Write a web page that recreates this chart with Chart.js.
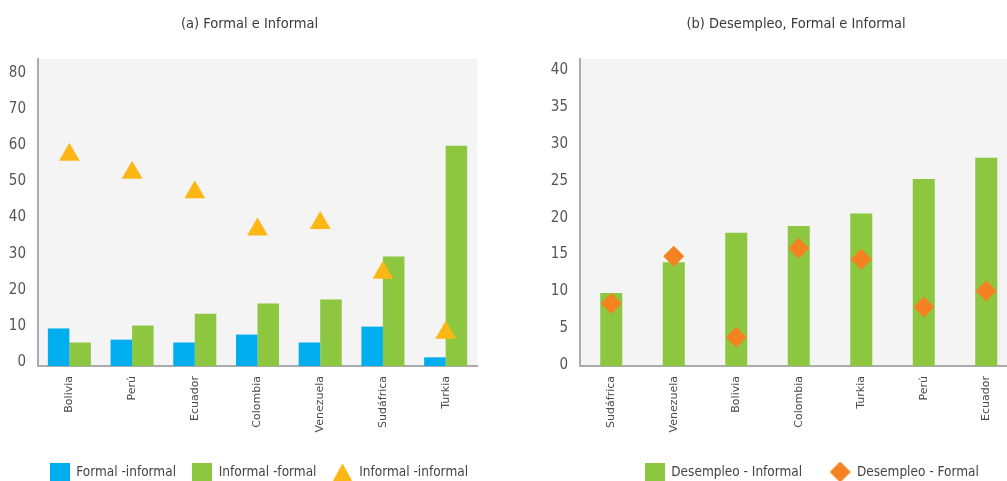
<!DOCTYPE html>
<html>
<head>
<meta charset="utf-8">
<script src="https://cdn.jsdelivr.net/npm/chart.js@4.4.1/dist/chart.umd.min.js"></script>
<style>
  html, body { margin: 0; padding: 0; background: #fff; overflow: hidden; width: 1007px; height: 481px; }
  canvas { position: absolute; top: 0; }
  #chartA { left: 0; }
  #chartB { left: 530px; }
</style>
</head>
<body>
<canvas id="chartA" width="489" height="481"></canvas>
<canvas id="chartB" width="499" height="481"></canvas>
<script>
// (a) Formal e Informal
const paisesA = ['Bolivia', 'Perú', 'Ecuador', 'Colombia', 'Venezuela', 'Sudáfrica', 'Turkia'];
const formalInformal = [10.4, 7.3, 6.5, 8.7, 6.5, 10.9, 2.4];
const informalFormal = [6.5, 11.2, 14.5, 17.3, 18.4, 30.3, 61.0];
const informalInformal = [58.5, 53.5, 48.1, 37.8, 39.6, 25.8, 9.2];
const ticksA = [0, 10, 20, 30, 40, 50, 60, 70, 80];

// (b) Desempleo, Formal e Informal
const paisesB = ['Sudáfrica', 'Venezuela', 'Bolivia', 'Colombia', 'Turkia', 'Perú', 'Ecuador'];
const desempleoInformal = [9.9, 14.1, 18.1, 19.0, 20.7, 25.4, 28.3];
const desempleoFormal = [8.5, 14.9, 3.9, 16.0, 14.5, 8.0, 10.2];
const ticksB = [0, 5, 10, 15, 20, 25, 30, 35, 40];

const AZUL = '#00adef';
const VERDE = '#8dc63f';
const AMARILLO = '#fdb714';
const NARANJA = '#f58220';
const EJE = '#a9abae';

Chart.defaults.font.family = "'Liberation Sans Narrow', 'DejaVu Sans Condensed', sans-serif";
Chart.defaults.color = '#444';

// small canvases used as legend symbols
function icono(w, h, color, forma) {
    const c = document.createElement('canvas');
    c.width = w;
    c.height = h;
    const ctx = c.getContext('2d');
    ctx.fillStyle = color;
    ctx.beginPath();
    if (forma === 'tri') {
        ctx.moveTo(w / 2, 0);
        ctx.lineTo(w, h);
        ctx.lineTo(0, h);
    } else if (forma === 'rombo') {
        ctx.moveTo(w / 2, 0);
        ctx.lineTo(w, h / 2);
        ctx.lineTo(w / 2, h);
        ctx.lineTo(0, h / 2);
    } else {
        ctx.rect(0, 0, w, h);
    }
    ctx.closePath();
    ctx.fill();
    return c;
}

// light grey plot background
const plotBg = {
    id: 'plotBg',
    beforeDraw(chart) {
        const a = chart.chartArea;
        const ctx = chart.ctx;
        ctx.save();
        ctx.fillStyle = '#f3f4f3';
        ctx.fillRect(a.left, a.top, a.right - a.left, a.bottom - a.top);
        ctx.restore();
    }
};

// legend kept on one row, fixed height
const legendHeight = {
    id: 'legendHeight',
    beforeInit(chart) {
        const fit = chart.legend.fit;
        chart.legend.fit = function () {
            this.maxWidth = 1000;
            fit.call(this);
            this.height = 37.75;
        };
    }
};

// move title / legend to where the original has them
const ajusteCajas = {
    id: 'ajusteCajas',
    afterLayout(chart, args, opts) {
        const t = chart.titleBlock;
        const half = (t.right - t.left) / 2;
        t.left = opts.titleCenter - half;
        t.right = opts.titleCenter + half;

        const lg = chart.legend;
        const p = lg.options.labels.padding;
        lg.left = opts.legendStart - p;
        lg.right = opts.legendStart + lg.lineWidths[0] + 1;
        lg.width = lg.right - lg.left;
        lg.top = opts.legendMid - p - lg.options.labels.font.size / 2;
        lg.bottom = chart.height;
        lg.height = lg.bottom - lg.top;
    }
};

function buildOptions(cfg) {
    return {
        responsive: false,
        animation: false,
        events: [],
        layout: { padding: { left: 0, right: cfg.padRight, top: 0, bottom: 0 } },
        plugins: {
            tooltip: { enabled: false },
            title: {
                display: true,
                text: cfg.title,
                fullSize: false,
                color: '#3a3a3a',
                font: { size: 14.5, weight: 'normal' },
                padding: { top: 16, bottom: 25.6 }
            },
            legend: {
                position: 'bottom',
                fullSize: false,
                labels: {
                    usePointStyle: true,
                    pointStyleWidth: 20,
                    boxHeight: 13.5,
                    padding: cfg.legendPad,
                    color: '#444',
                    font: { size: 13.5 },
                    sort: (a, b) => a.datasetIndex - b.datasetIndex,
                    generateLabels(chart) {
                        const items = Chart.defaults.plugins.legend.labels.generateLabels(chart);
                        items.forEach(it => { it.pointStyle = cfg.iconos[it.datasetIndex]; });
                        return items;
                    }
                }
            },
            ajusteCajas: {
                titleCenter: cfg.titleCenter,
                legendStart: cfg.legendStart,
                legendMid: 472
            }
        },
        scales: {
            x: {
                grid: { display: false, drawTicks: false },
                border: { display: true, color: EJE, width: 2 },
                ticks: {
                    minRotation: 90,
                    maxRotation: 90,
                    padding: 10,
                    color: '#4a4a4a',
                    font: { family: "'DejaVu Sans', sans-serif", size: 11 }
                },
                afterFit(scale) { scale.height = 77.25; }
            },
            y: {
                min: 0,
                max: cfg.yMax,
                grid: { display: false, drawTicks: false },
                border: { display: true, color: EJE, width: 2 },
                ticks: {
                    padding: 12,
                    labelOffset: cfg.labelOffset,
                    color: '#555',
                    font: { size: 15 }
                },
                afterBuildTicks(scale) { scale.ticks = cfg.ticks.map(v => ({ value: v })); },
                afterFit(scale) { scale.width = cfg.yWidth; }
            }
        }
    };
}

new Chart(document.getElementById('chartA'), {
    type: 'bar',
    data: {
        labels: paisesA,
        datasets: [
            {
                label: 'Formal -informal',
                data: formalInformal,
                backgroundColor: AZUL,
                borderWidth: 0,
                categoryPercentage: 0.686,
                barPercentage: 1.0,
                order: 1
            },
            {
                label: 'Informal -formal',
                data: informalFormal,
                backgroundColor: VERDE,
                borderWidth: 0,
                categoryPercentage: 0.686,
                barPercentage: 1.0,
                order: 1
            },
            {
                type: 'line',
                label: 'Informal -informal',
                data: informalInformal,
                showLine: false,
                pointStyle: 'triangle',
                pointRadius: 12,
                backgroundColor: AMARILLO,
                pointBackgroundColor: AMARILLO,
                borderColor: AMARILLO,
                borderWidth: 0,
                pointBorderWidth: 0,
                order: 0
            }
        ]
    },
    options: buildOptions({
        title: '(a) Formal e Informal',
        ticks: ticksA, yMax: 85, yWidth: 38, padRight: 12, labelOffset: -4,
        titleCenter: 249.5, legendStart: 49, legendPad: 16,
        iconos: [icono(20, 19, AZUL), icono(20, 19, VERDE), icono(19, 17, AMARILLO, 'tri')]
    }),
    plugins: [plotBg, legendHeight, ajusteCajas]
});

new Chart(document.getElementById('chartB'), {
    type: 'bar',
    data: {
        labels: paisesB,
        datasets: [
            {
                label: 'Desempleo - Informal',
                data: desempleoInformal,
                backgroundColor: VERDE,
                borderWidth: 0,
                categoryPercentage: 0.352,
                barPercentage: 1.0,
                order: 1
            },
            {
                type: 'line',
                label: 'Desempleo - Formal',
                data: desempleoFormal,
                showLine: false,
                pointStyle: 'rectRot',
                pointRadius: 10.5,
                backgroundColor: NARANJA,
                pointBackgroundColor: NARANJA,
                borderColor: NARANJA,
                borderWidth: 0,
                pointBorderWidth: 0,
                order: 0
            }
        ]
    },
    options: buildOptions({
        title: '(b) Desempleo, Formal e Informal',
        ticks: ticksB, yMax: 41.7, yWidth: 50, padRight: 11.5, labelOffset: -1,
        titleCenter: 266, legendStart: 114, legendPad: 28,
        iconos: [icono(20, 19, VERDE), icono(21, 21, NARANJA, 'rombo')]
    }),
    plugins: [plotBg, legendHeight, ajusteCajas]
});
</script>
</body>
</html>
